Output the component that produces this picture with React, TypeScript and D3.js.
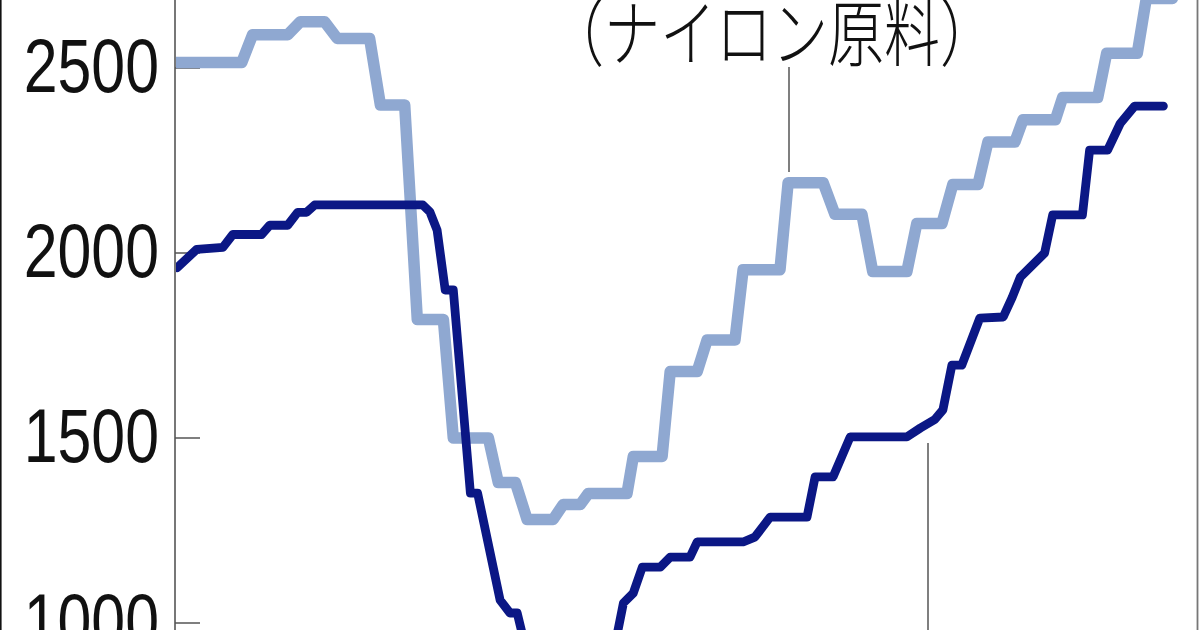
import React from "react";
import * as d3 from "d3";

// Light line: nylon raw material (ナイロン原料). x = week index, y = price
const lightWeeks = [0, 7.2, 8.4, 12.3, 13.7, 16.4, 17.8, 21.4, 22.6, 25.3, 26.7, 29.6, 30.7, 34.6, 35.7, 37.6, 38.9, 41.8, 42.9, 44.8, 45.7, 50, 50.7, 53.9, 54.8, 57.8, 58.9, 62, 62.9, 67, 67.9, 71.8, 73.1, 76.1, 77.3, 81.1, 82.2, 85, 86.2, 89, 90.1, 93.1, 94, 97.6, 98.4, 102.3, 103.3, 106.7, 107.7, 110.6];
const lightValues = [2515, 2515, 2590, 2590, 2625, 2625, 2580, 2580, 2400, 2400, 1820, 1820, 1500, 1500, 1380, 1380, 1280, 1280, 1320, 1320, 1350, 1350, 1450, 1450, 1680, 1680, 1765, 1765, 1955, 1955, 2190, 2190, 2105, 2105, 1950, 1950, 2080, 2080, 2185, 2185, 2300, 2300, 2360, 2360, 2420, 2420, 2540, 2540, 2688, 2688];

// Dark line
const darkWeeks = [0, 2.2, 5.1, 6.2, 9.4, 10.3, 12.3, 13.4, 14.4, 15.3, 27.3, 28.1, 28.9, 29.8, 30.7, 32.6, 33.4, 35.9, 37, 37.8, 39.2, 40.9, 47.9, 49.6, 50.7, 51.7, 53.7, 54.8, 57, 57.8, 62.9, 64.2, 65.9, 70, 70.9, 72.9, 74.8, 81.1, 82.6, 84.2, 85.1, 86.1, 87.2, 89.2, 91.8, 92.8, 93.7, 96.4, 97.3, 100.6, 101.4, 103.4, 104.8, 106.4, 109.6];
const darkValues = [1960, 2010, 2015, 2050, 2050, 2075, 2075, 2110, 2110, 2130, 2130, 2111, 2062, 1900, 1900, 1351, 1351, 1062, 1027, 1027, 886, 846, 846, 1054, 1081, 1151, 1151, 1178, 1178, 1219, 1219, 1232, 1286, 1286, 1395, 1395, 1503, 1503, 1527, 1550, 1576, 1697, 1697, 1824, 1827, 1880, 1935, 2000, 2103, 2103, 2278, 2278, 2350, 2397, 2397];

const yTicks = [1000, 1500, 2000, 2500];
const seriesLabel = "（ナイロン原料）";

const W = 1200;
const H = 630;

export default function App() {
  const x = d3.scaleLinear().domain([0, 110]).range([177, 1167]);
  const y = d3.scaleLinear().domain([1000, 2500]).range([623, 68]);

  const line = d3
    .line<[number, number]>()
    .x((d) => x(d[0]))
    .y((d) => y(d[1]));

  const lightPts = d3.zip(lightWeeks, lightValues) as [number, number][];
  const darkPts = d3.zip(darkWeeks, darkValues) as [number, number][];

  const axisX = 175;

  return (
    <svg
      width={W}
      height={H}
      viewBox={`0 0 ${W} ${H}`}
      style={{ position: "absolute", left: 0, top: 0, background: "#fff" }}
    >
      <defs>
        <clipPath id="plot">
          <rect x={axisX + 1} y={-30} width={1196 - axisX - 1} height={H + 60} />
        </clipPath>
      </defs>
      <rect x={0} y={0} width={W} height={H} fill="#fff" />

      {/* frame borders */}
      <line x1={0.8} y1={0} x2={0.8} y2={H} stroke="#111" strokeWidth={1.6} />
      <line x1={1197.5} y1={0} x2={1197.5} y2={H} stroke="#777" strokeWidth={1.8} />

      {/* y axis */}
      <line x1={axisX} y1={0} x2={axisX} y2={H} stroke="#777" strokeWidth={2} />
      {yTicks.map((t) => (
        <g key={t}>
          <line x1={axisX} y1={y(t)} x2={200} y2={y(t)} stroke="#555" strokeWidth={1.5} />
          <text
            transform={`translate(159, ${y(t) + 24}) scale(0.8, 1)`}
            textAnchor="end"
            fontFamily="'Liberation Sans', Arial, sans-serif"
            fontSize={76}
            fill="#111"
          >
            {t}
          </text>
        </g>
      ))}

      {/* leader lines */}
      <line x1={789} y1={67} x2={789} y2={172} stroke="#555" strokeWidth={1.5} />
      <line x1={928} y1={443} x2={928} y2={H} stroke="#555" strokeWidth={1.5} />

      <g clipPath="url(#plot)">
        <path
          d={line(lightPts) || ""}
          fill="none"
          stroke="#8fa8d1"
          strokeWidth={11.5}
          strokeLinejoin="round"
          strokeLinecap="round"
        />
        <path
          d={line(darkPts) || ""}
          fill="none"
          stroke="#0b1785"
          strokeWidth={8.8}
          strokeLinejoin="round"
          strokeLinecap="round"
        />
      </g>

      <text
        x={548}
        y={60}
        textLength={448}
        lengthAdjust="spacingAndGlyphs"
        fontFamily="'Noto Sans CJK JP', sans-serif"
        fontSize={73}
        fontWeight={300}
        fill="#111"
      >
        {seriesLabel}
      </text>
    </svg>
  );
}
